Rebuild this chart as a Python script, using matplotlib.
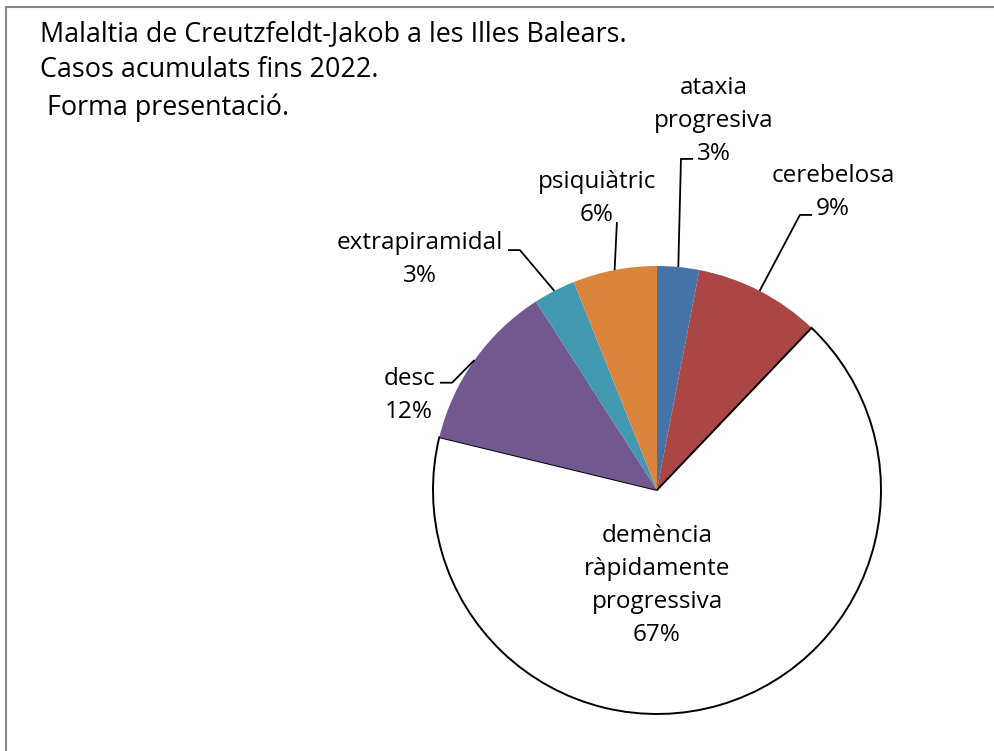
import numpy as np
import matplotlib
matplotlib.use("Agg")
import matplotlib.pyplot as plt
from matplotlib.patches import Rectangle

plt.rcParams['font.family'] = ['Open Sans', 'DejaVu Sans']

# dades
categories = ['ataxia\nprogresiva', 'cerebelosa', 'demència\nràpidamente\nprogressiva',
              'desc', 'extrapiramidal', 'psiquiàtric']
casos = [1, 3, 22, 4, 1, 2]
colors = ['#4572A7', '#AA4643', '#FFFFFF', '#71588F', '#4198AF', '#DB843D']
title = 'Malaltia de Creutzfeldt-Jakob a les Illes Balears.\nCasos acumulats fins 2022.\n Forma presentació.'

W, H = 995, 751
fig = plt.figure(figsize=(W / 100, H / 100), dpi=100)

# marc exterior
fig.patches.append(Rectangle((5.5 / W, -0.1), 1.2, 1 - 6.5 / H + 0.1, transform=fig.transFigure,
                             fill=False, edgecolor='#878787', lw=1.5))

# pastis: centre (657,490) px, radi 224 px
cx, cy, r = 657, 490, 224
ax = fig.add_axes([(cx - r) / W, (H - cy - r) / H, 2 * r / W, 2 * r / H])
wedges, _ = ax.pie(casos, colors=colors, startangle=90, counterclock=False, radius=1,
                   wedgeprops=dict(linewidth=0))
# nomes la porcio blanca porta vora
wedges[2].set_edgecolor('black')
wedges[2].set_linewidth(1.4)
ax.set_xlim(-1, 1)
ax.set_ylim(-1, 1)
ax.set_aspect('equal')
ax.axis('off')

total = sum(casos)
pct = [f'{round(100 * v / total)}%' for v in casos]

# posicio de les etiquetes (unitats del radi) i punt del colze de la linia guia
label_pos = [(0.255, 1.647), (0.786, 1.326), None, (-1.107, 0.424), (-1.058, 1.027), (-0.268, 1.30)]
elbow = [[(0.107, 1.478), (0.161, 1.478)],
         [(0.638, 1.228), (0.692, 1.228)],
         None,
         [(-0.915, 0.479), (-0.969, 0.479)],
         [(-0.612, 1.071), (-0.665, 1.071)],
         [(-0.179, 1.196)]]

fs = 17.5
ls = 1.5
for i, w in enumerate(wedges):
    mid = np.deg2rad((w.theta1 + w.theta2) / 2)
    txt = f'{categories[i]}\n{pct[i]}'
    if label_pos[i] is None:
        ax.text(0.0, -0.425, txt, ha='center', va='center', fontsize=fs, linespacing=ls)
        continue
    px, py = np.cos(mid), np.sin(mid)
    pts = [(px, py)] + elbow[i]
    xs, ys = zip(*pts)
    ax.plot(xs, ys, color='black', lw=1.3, clip_on=False, solid_capstyle='butt')
    ax.text(label_pos[i][0], label_pos[i][1], txt, ha='center', va='center', fontsize=fs,
            linespacing=ls, clip_on=False)

fig.text(40 / W, 1 - 20 / H, title, ha='left', va='top', fontsize=19.4, linespacing=1.4)

fig.savefig('out.png', dpi=100)
